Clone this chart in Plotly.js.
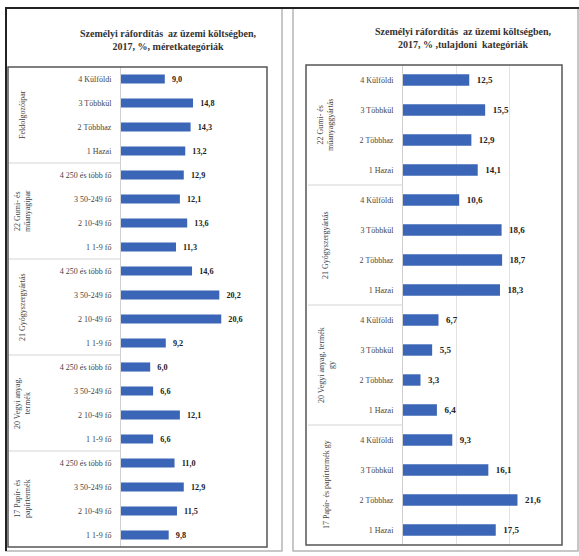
<!DOCTYPE html>
<html>
<head>
<meta charset="utf-8">
<script src="https://cdn.plot.ly/plotly-3.0.1.min.js"></script>
<style>html,body{margin:0;padding:0;background:#fff;}#chart{width:579px;height:556px;}</style>
</head>
<body>
<div id="chart"></div>
<script>
// ---- data ----
const leftTitle = "Személyi ráfordítás  az üzemi költségben,<br>2017, %, méretkategóriák";
const rightTitle = "Személyi ráfordítás  az üzemi költségben,<br>2017, % ,tulajdoni  kategóriák";

const leftGroups = ["Feldolgozóipar", "22 Gumi- és<br>műanyagipar", "21 Gyógyszergyártás", "20 Vegyi anyag,<br>termék", "17 Papír- és<br>papírtermék"];
const leftLabels = [
  "4 Külföldi", "3 Többkül", "2 Többhaz", "1 Hazai",
  "4 250 és több fő", "3 50-249 fő", "2 10-49 fő", "1 1-9 fő",
  "4 250 és több fő", "3 50-249 fő", "2 10-49 fő", "1 1-9 fő",
  "4 250 és több fő", "3 50-249 fő", "2 10-49 fő", "1 1-9 fő",
  "4 250 és több fő", "3 50-249 fő", "2 10-49 fő", "1 1-9 fő"
];
const leftValues = [
  9.0, 14.8, 14.3, 13.2,
  12.9, 12.1, 13.6, 11.3,
  14.6, 20.2, 20.6, 9.2,
  6.0, 6.6, 12.1, 6.6,
  11.0, 12.9, 11.5, 9.8
];

const rightGroups = ["22 Gumi- és<br>műanyaggyártás", "21 Gyógyszergyártás", "20 Vegyi anyag, termék<br>gy", "17 Papír- és papírtermék gy"];
const rightLabels = [
  "4 Külföldi", "3 Többkül", "2 Többhaz", "1 Hazai",
  "4 Külföldi", "3 Többkül", "2 Többhaz", "1 Hazai",
  "4 Külföldi", "3 Többkül", "2 Többhaz", "1 Hazai",
  "4 Külföldi", "3 Többkül", "2 Többhaz", "1 Hazai"
];
const rightValues = [
  12.5, 15.5, 12.9, 14.1,
  10.6, 18.6, 18.7, 18.3,
  6.7, 5.5, 3.3, 6.4,
  9.3, 16.1, 21.6, 17.5
];
const groupSize = 4;

// ---- helpers ----
const W = 579, H = 556;
const px = v => v / W;
const py = v => 1 - v / H;
const idx = arr => arr.map((_, i) => i);
const BAR = "#3b66b7";
const SERIF = "Liberation Serif, Times New Roman, serif";

function barTrace(vals, labels, xa, ya, gap) {
  return {
    type: "bar", orientation: "h",
    x: vals, y: idx(vals),
    xaxis: xa, yaxis: ya,
    marker: {color: BAR},
    text: vals.map(v => "\u00a0\u00a0" + v.toFixed(1).replace(".", ",")),
    textposition: "outside",
    textfont: {family: SERIF, size: 9, color: "#222", weight: "bold"},
    cliponaxis: false,
    hoverinfo: "skip"
  };
}

const data = [
  barTrace(leftValues, leftLabels, "x", "y"),
  barTrace(rightValues, rightLabels, "x2", "y2")
];

const shapes = [];
const annotations = [];

// outer borders
shapes.push({type: "rect", xref: "paper", yref: "paper", x0: px(6), x1: px(282), y0: py(551), y1: py(8), line: {color: "#b5b5b5", width: 1.5}});
shapes.push({type: "rect", xref: "paper", yref: "paper", x0: px(293), x1: px(578), y0: py(551), y1: py(8), line: {color: "#b5b5b5", width: 1.5}});
shapes.push({type: "line", xref: "paper", yref: "paper", x0: px(5), x1: px(579), y0: py(8), y1: py(8), line: {color: "#222", width: 2}});
shapes.push({type: "line", xref: "paper", yref: "paper", x0: px(6), x1: px(6), y0: py(8), y1: py(551), line: {color: "#222", width: 2}});
// plot frames
shapes.push({type: "rect", xref: "paper", yref: "paper", x0: px(8), x1: px(267), y0: py(547), y1: py(67), line: {color: "#555", width: 1.5}});
shapes.push({type: "rect", xref: "paper", yref: "paper", x0: px(306), x1: px(562), y0: py(545), y1: py(65), line: {color: "#555", width: 1.5}});

// group separators and labels
function groups(names, yref, xs0, xs1, xl) {
  names.forEach((g, k) => {
    if (k > 0) {
      const yb = k * groupSize - 0.5;
      shapes.push({type: "line", xref: "paper", yref: yref, x0: px(xs0), x1: px(xs1), y0: yb, y1: yb, line: {color: "#d4d4d4", width: 1}});
    }
    annotations.push({
      xref: "paper", yref: yref, x: px(xl), y: k * groupSize + (groupSize - 1) / 2,
      text: g, textangle: -90, showarrow: false, xanchor: "center", yanchor: "middle",
      font: {family: SERIF, size: 8, color: "#444"}
    });
  });
}
groups(leftGroups, "y", 9, 121, 22);
groups(rightGroups, "y2", 308, 403, 326);

// titles
annotations.push({xref: "paper", yref: "paper", x: px(168), y: py(40), text: leftTitle, showarrow: false, xanchor: "center", yanchor: "middle", font: {family: SERIF, size: 10, color: "#333", weight: "bold"}});
annotations.push({xref: "paper", yref: "paper", x: px(463), y: py(38), text: rightTitle, showarrow: false, xanchor: "center", yanchor: "middle", font: {family: SERIF, size: 10, color: "#333", weight: "bold"}});

const yBase = {
  tickmode: "array", ticks: "", showline: true, linecolor: "#d0d0d0", linewidth: 1,
  tickfont: {family: SERIF, size: 8, color: "#444"}, ticklabelstandoff: 7,
  showgrid: false, zeroline: false, fixedrange: true
};

const layout = {
  width: W, height: H,
  margin: {l: 0, r: 0, t: 0, b: 0},
  paper_bgcolor: "#fff", plot_bgcolor: "rgba(0,0,0,0)",
  showlegend: false,
  separators: ", ",
  bargap: 0.62,
  xaxis: {domain: [px(121), px(267)], range: [0, 30], anchor: "y", showticklabels: false, ticks: "", showgrid: false, zeroline: false, showline: false},
  yaxis: Object.assign({}, yBase, {domain: [py(547), py(67)], range: [leftValues.length - 0.5, -0.5], anchor: "x", tickvals: idx(leftLabels), ticktext: leftLabels}),
  xaxis2: {domain: [px(403), px(562)], range: [0, 30], anchor: "y2", showticklabels: false, ticks: "", showgrid: true, dtick: 10, gridcolor: "#e3e3e3", zeroline: false, showline: false},
  yaxis2: Object.assign({}, yBase, {domain: [py(545), py(65)], range: [rightValues.length - 0.5, -0.5], anchor: "x2", tickvals: idx(rightLabels), ticktext: rightLabels}),
  shapes: shapes,
  annotations: annotations
};

Plotly.newPlot("chart", data, layout, {staticPlot: true, displayModeBar: false});
</script>
</body>
</html>
